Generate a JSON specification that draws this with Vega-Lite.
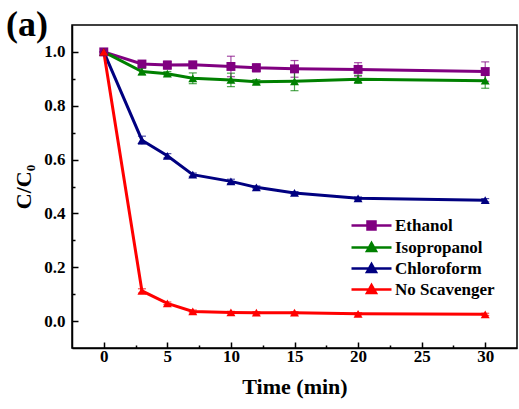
{
  "$schema": "https://vega.github.io/schema/vega-lite/v6.json",
  "width": 445,
  "height": 323,
  "autosize": {"type": "none"},
  "padding": {"left": 72, "top": 25, "right": 2, "bottom": 61},
  "background": "white",
  "title": {"text": "(a)", "anchor": "start", "frame": "group", "font": "Liberation Serif", "fontSize": 36, "fontWeight": "bold", "color": "black", "baseline": "alphabetic", "offset": 0, "dx": -66, "dy": 47},
  "data": {"values": [
    {"series": "Ethanol", "t": 0, "v": 1.0, "err": 0.0},
    {"series": "Ethanol", "t": 3, "v": 0.955, "err": 0.01},
    {"series": "Ethanol", "t": 5, "v": 0.951, "err": 0.015},
    {"series": "Ethanol", "t": 7, "v": 0.952, "err": 0.008},
    {"series": "Ethanol", "t": 10, "v": 0.946, "err": 0.038},
    {"series": "Ethanol", "t": 12, "v": 0.941, "err": 0.015},
    {"series": "Ethanol", "t": 15, "v": 0.937, "err": 0.031},
    {"series": "Ethanol", "t": 20, "v": 0.935, "err": 0.025},
    {"series": "Ethanol", "t": 30, "v": 0.927, "err": 0.036},
    {"series": "Isopropanol", "t": 0, "v": 1.0, "err": 0.0},
    {"series": "Isopropanol", "t": 3, "v": 0.927, "err": 0.012},
    {"series": "Isopropanol", "t": 5, "v": 0.919, "err": 0.008},
    {"series": "Isopropanol", "t": 7, "v": 0.902, "err": 0.02},
    {"series": "Isopropanol", "t": 10, "v": 0.896, "err": 0.025},
    {"series": "Isopropanol", "t": 12, "v": 0.889, "err": 0.008},
    {"series": "Isopropanol", "t": 15, "v": 0.891, "err": 0.035},
    {"series": "Isopropanol", "t": 20, "v": 0.898, "err": 0.015},
    {"series": "Isopropanol", "t": 30, "v": 0.893, "err": 0.028},
    {"series": "Chloroform", "t": 0, "v": 1.0, "err": 0.0},
    {"series": "Chloroform", "t": 3, "v": 0.672, "err": 0.015},
    {"series": "Chloroform", "t": 5, "v": 0.614, "err": 0.008},
    {"series": "Chloroform", "t": 7, "v": 0.544, "err": 0.006},
    {"series": "Chloroform", "t": 10, "v": 0.519, "err": 0.008},
    {"series": "Chloroform", "t": 12, "v": 0.497, "err": 0.005},
    {"series": "Chloroform", "t": 15, "v": 0.476, "err": 0.005},
    {"series": "Chloroform", "t": 20, "v": 0.456, "err": 0.005},
    {"series": "Chloroform", "t": 30, "v": 0.449, "err": 0.006},
    {"series": "No Scavenger", "t": 0, "v": 1.0, "err": 0.0},
    {"series": "No Scavenger", "t": 3, "v": 0.112, "err": 0.008},
    {"series": "No Scavenger", "t": 5, "v": 0.066, "err": 0.005},
    {"series": "No Scavenger", "t": 7, "v": 0.036, "err": 0.005},
    {"series": "No Scavenger", "t": 10, "v": 0.032, "err": 0.004},
    {"series": "No Scavenger", "t": 12, "v": 0.031, "err": 0.004},
    {"series": "No Scavenger", "t": 15, "v": 0.031, "err": 0.004},
    {"series": "No Scavenger", "t": 20, "v": 0.027, "err": 0.004},
    {"series": "No Scavenger", "t": 30, "v": 0.025, "err": 0.004}
  ]},
  "layer": [
    {
      "mark": {"type": "errorbar", "ticks": {"size": 8}, "thickness": 1.2, "opacity": 0.7},
      "encoding": {
        "x": {"field": "t", "type": "quantitative", "scale": {"domain": [-2.5, 32.5], "nice": false, "zero": false},
              "axis": {"orient": "bottom", "values": [2.5, 7.5, 12.5, 17.5, 22.5, 27.5], "labels": false, "domain": false, "tickSize": -3, "tickWidth": 1.5, "tickColor": "black", "title": null, "grid": false}},
        "y": {"field": "v", "type": "quantitative", "scale": {"domain": [-0.1, 1.1], "nice": false, "zero": false},
              "axis": {"orient": "left", "values": [0.1, 0.3, 0.5, 0.7, 0.9], "labels": false, "domain": false, "tickSize": -3, "tickWidth": 1.5, "tickColor": "black", "title": null, "grid": false}},
        "yError": {"field": "err"},
        "color": {"field": "series", "type": "nominal", "scale": {"domain": ["Ethanol", "Isopropanol", "Chloroform", "No Scavenger"], "range": ["#800080", "#008000", "#000080", "#ff0000"]}}
      }
    },
    {
      "mark": {"type": "line", "strokeWidth": 3},
      "encoding": {
        "x": {"field": "t", "type": "quantitative",
              "axis": {"orient": "bottom", "values": [0, 5, 10, 15, 20, 25, 30], "domain": true, "domainColor": "black", "domainWidth": 1.5, "tickSize": -6, "tickWidth": 1.5, "tickColor": "black", "grid": false,
                       "labelFont": "Liberation Serif", "labelFontSize": 17, "labelFontWeight": "bold", "labelColor": "black", "labelPadding": 6,
                       "title": "Time (min)", "titleFont": "Liberation Serif", "titleFontSize": 22, "titleFontWeight": "bold", "titleColor": "black", "titlePadding": 12}},
        "y": {"field": "v", "type": "quantitative",
              "axis": {"orient": "left", "values": [0, 0.2, 0.4, 0.6, 0.8, 1.0], "format": ".1f", "domain": true, "domainColor": "black", "domainWidth": 1.5, "tickSize": -6, "tickWidth": 1.5, "tickColor": "black", "grid": false,
                       "labelFont": "Liberation Serif", "labelFontSize": 17, "labelFontWeight": "bold", "labelColor": "black", "labelPadding": 13,
                       "title": "C/C₀", "titleFont": "Liberation Serif", "titleFontSize": 22, "titleFontWeight": "bold", "titleColor": "black", "titlePadding": 8}},
        "color": {"field": "series", "type": "nominal",
                  "legend": {"orient": "none", "legendX": 288, "legendY": 189, "title": null, "padding": 0,
                             "labelFont": "Liberation Serif", "labelFontSize": 17, "labelFontWeight": "bold", "labelColor": "black", "labelOffset": 12,
                             "symbolType": "M-2,0H2M-0.45,0.35L0,-0.45L0.45,0.35Z",
                             "symbolSize": 400, "symbolStrokeWidth": 2.5, "rowPadding": 1,
                             "encode": {"symbols": {"update": {
                               "shape": {"signal": "datum.value === 'Ethanol' ? 'M-2,0H2M-0.4,-0.4H0.4V0.4H-0.4Z' : 'M-2,0H2M-0.45,0.35L0,-0.45L0.45,0.35Z'"},
                               "fill": {"scale": "color", "field": "value"},
                               "stroke": {"scale": "color", "field": "value"},
                               "opacity": {"value": 1}}}}}}
      }
    },
    {
      "transform": [{"filter": "datum.series === 'Ethanol'"}],
      "mark": {"type": "point", "filled": true, "size": 80, "opacity": 1, "shape": "square"},
      "encoding": {
        "x": {"field": "t", "type": "quantitative", "axis": null},
        "y": {"field": "v", "type": "quantitative", "axis": null},
        "color": {"field": "series", "type": "nominal"}
      }
    },
    {
      "transform": [{"filter": "datum.series !== 'Ethanol'"}],
      "mark": {"type": "point", "filled": true, "size": 80, "opacity": 1, "shape": "triangle-up"},
      "encoding": {
        "x": {"field": "t", "type": "quantitative", "axis": null},
        "y": {"field": "v", "type": "quantitative", "axis": null},
        "color": {"field": "series", "type": "nominal"}
      }
    }
  ],
  "resolve": {"axis": {"x": "independent", "y": "independent"}},
  "config": {"view": {"stroke": "black", "strokeWidth": 1.5}}
}
